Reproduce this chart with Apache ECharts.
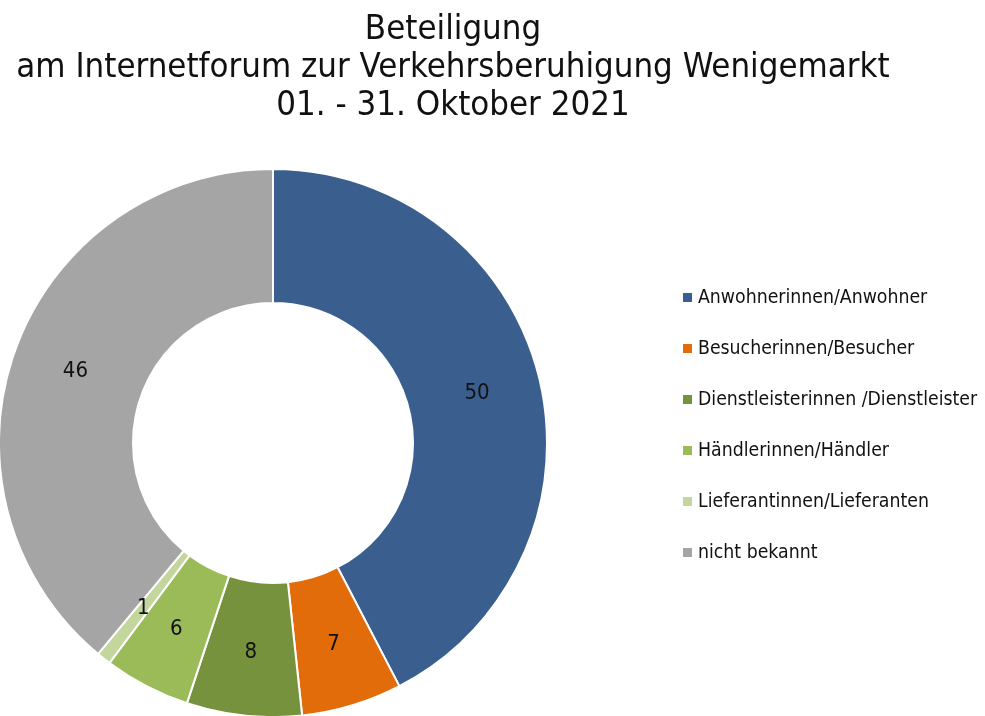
<!DOCTYPE html>
<html><head><meta charset="utf-8">
<script src="https://cdn.jsdelivr.net/npm/echarts@6/dist/echarts.min.js"></script>
<style>html,body{margin:0;padding:0;background:#fff}#c{width:985px;height:716px}</style>
</head><body><div id="c"></div>
<script>
const categories = ["Anwohnerinnen/Anwohner","Besucherinnen/Besucher","Dienstleisterinnen /Dienstleister","Händlerinnen/Händler","Lieferantinnen/Lieferanten","nicht bekannt"];
const values = [50, 7, 8, 6, 1, 46];
const colors = ["#3A5F8F","#E36C0A","#76923C","#9BBB59","#C3D69B","#A5A5A5"];
const titleLines = ["Beteiligung","am Internetforum zur Verkehrsberuhigung Wenigemarkt","01. - 31. Oktober 2021"];
const FONT = '"Liberation Sans Narrow","DejaVu Sans Condensed","Open Sans",sans-serif';
const chart = echarts.init(document.getElementById('c'));
chart.setOption({
  animation:false,
  title:{text:titleLines.join('\n'),left:448,textAlign:'center',top:6,
    textStyle:{fontFamily:FONT,fontSize:34.5,fontWeight:'normal',color:'#111',lineHeight:38}},
  legend:{orient:'vertical',left:676,top:283,itemWidth:11,itemHeight:11,itemGap:32,
    icon:'rect',textStyle:{fontFamily:FONT,fontSize:19.3,color:'#111'},
    data:categories},
  color:colors,
  series:[{type:'pie',center:[273,443],radius:[140,274],startAngle:90,clockwise:true,
    avoidLabelOverlap:false,
    itemStyle:{borderColor:'#fff',borderWidth:2},
    label:{show:true,position:'inside',formatter:'{c}',fontFamily:FONT,fontSize:22,color:'#111'},
    labelLine:{show:false},
    data:categories.map((n,i)=>({name:n,value:values[i]}))}]
});
</script></body></html>
